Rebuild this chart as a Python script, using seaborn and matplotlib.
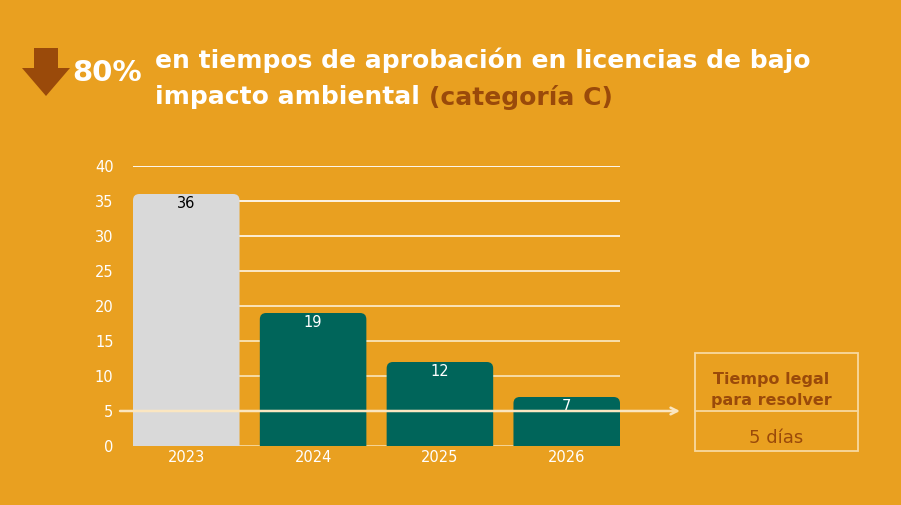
import matplotlib
matplotlib.use("Agg")
import matplotlib.pyplot as plt
import seaborn as sns
import pandas as pd
from matplotlib.patches import FancyBboxPatch, Polygon, Rectangle
from matplotlib.lines import Line2D

years = ["2023", "2024", "2025", "2026"]
days = [36, 19, 12, 7]
legal_days = 5
yticks = [0, 5, 10, 15, 20, 25, 30, 35, 40]
title_pct = "80%"
title_line1 = "en tiempos de aprobación en licencias de bajo"
title_line2a = "impacto ambiental "
title_line2b = "(categoría C)"
box_title = "Tiempo legal\npara resolver"
box_value = "5 días"

BG = "#E9A020"
GREEN = "#00655A"
GREY = "#D9D9D9"
BROWN = "#9A4A0A"
CREAM = "#FBE6C0"

sns.set_theme(style="white")
plt.rcParams["font.family"] = ["DejaVu Sans"]

fig = plt.figure(figsize=(9.01, 5.05), dpi=100, facecolor=BG)
ax = fig.add_axes([133/901, 59/505, (620-133)/901, (446-166)/505])
ax.set_facecolor(BG)

df = pd.DataFrame({"year": years, "days": days})
palette = [GREY] + [GREEN] * (len(years) - 1)
sns.barplot(data=df, x="year", y="days", hue="year", palette=palette,
            width=0.84, legend=False, ax=ax, saturation=1)

ax.set_xlim(-0.42, len(years) - 1 + 0.42)
ax.set_ylim(0, 40)

# gridlines fading from white to cream
grid_cols = ["#F6D9A0", "#F7DCA8", "#F8E0B0", "#F9E4B8", "#FBE9C6", "#FCEED4", "#FEF4E4", "#FFFAF2", "#FFFFFF"]
for t, c in zip(yticks, grid_cols):
    ax.axhline(t, color=c, lw=1.3, zorder=0.5)

# rounded bars
aspect = 127.0 / (280 / 40)
for p, val in zip(list(ax.patches), days):
    x0, w, h = p.get_x(), p.get_width(), p.get_height()
    fc = p.get_facecolor()
    p.remove()
    fb = FancyBboxPatch((x0, -2), w, h + 2,
                        boxstyle="round,pad=0,rounding_size=0.05",
                        mutation_aspect=aspect, fc=fc, ec="none", zorder=2,
                        clip_on=True)
    ax.add_patch(fb)
    ax.text(x0 + w / 2, h - 0.35, str(val), ha="center", va="top",
            color="black" if fc[0] > 0.5 else "white", fontsize=10.5,
            zorder=4)

ax.set_yticks(yticks)
ax.set_yticklabels([str(t) for t in yticks], color="white", fontsize=10.5)
ax.tick_params(axis="y", length=0, pad=14)
ax.tick_params(axis="x", length=0, pad=3, labelcolor="white", labelsize=10.5)
ax.set_xlabel("")
ax.set_ylabel("")
for s in ax.spines.values():
    s.set_visible(False)

# legal reference line with arrow
ax.annotate("", xy=(680/901, legal_days), xycoords=("figure fraction", "data"),
            xytext=(120/901, legal_days), textcoords=("figure fraction", "data"),
            arrowprops=dict(arrowstyle="->", color=CREAM, lw=1.8,
                            shrinkA=0, shrinkB=0), annotation_clip=False, zorder=5)

# legal box
bx0, bx1, by0, by1 = 695/901, 858/901, 1 - 451/505, 1 - 353/505
fig.add_artist(Rectangle((bx0, by0), bx1 - bx0, by1 - by0, transform=fig.transFigure,
                         fill=False, ec="#F8D9A0", lw=1.3))
fig.add_artist(Line2D([bx0, bx1], [1 - 411/505] * 2, transform=fig.transFigure,
                      color="#F8D9A0", lw=1.3))
fig.text(771/901, 1 - 390/505, box_title, ha="center", va="center", color=BROWN,
         fontsize=11.5, fontweight="bold", linespacing=1.55)
fig.text(776/901, 1 - 438/505, box_value, ha="center", va="center", color=BROWN,
         fontsize=13)

# title arrow
arrow = Polygon([(34/901, 1 - 48/505), (58/901, 1 - 48/505), (58/901, 1 - 68/505),
                 (70/901, 1 - 68/505), (46/901, 1 - 96/505), (22/901, 1 - 68/505),
                 (34/901, 1 - 68/505)],
                closed=True, transform=fig.transFigure, fc=BROWN, ec="none")
fig.add_artist(arrow)
fig.text(72/901, 1 - 73/505, title_pct, ha="left", va="center", color="white",
         fontsize=21, fontweight="bold")
fig.text(155/901, 1 - 60/505, title_line1, ha="left", va="center", color="white",
         fontsize=18, fontweight="bold")
t2 = fig.text(155/901, 1 - 97/505, title_line2a, ha="left", va="center", color="white",
              fontsize=18, fontweight="bold")
fig.canvas.draw()
bb = t2.get_window_extent()
fig.text(bb.x1 / fig.bbox.width, 1 - 97/505, title_line2b, ha="left", va="center",
         color=BROWN, fontsize=18, fontweight="bold")

fig.savefig("out.png", dpi=100, facecolor=BG)
